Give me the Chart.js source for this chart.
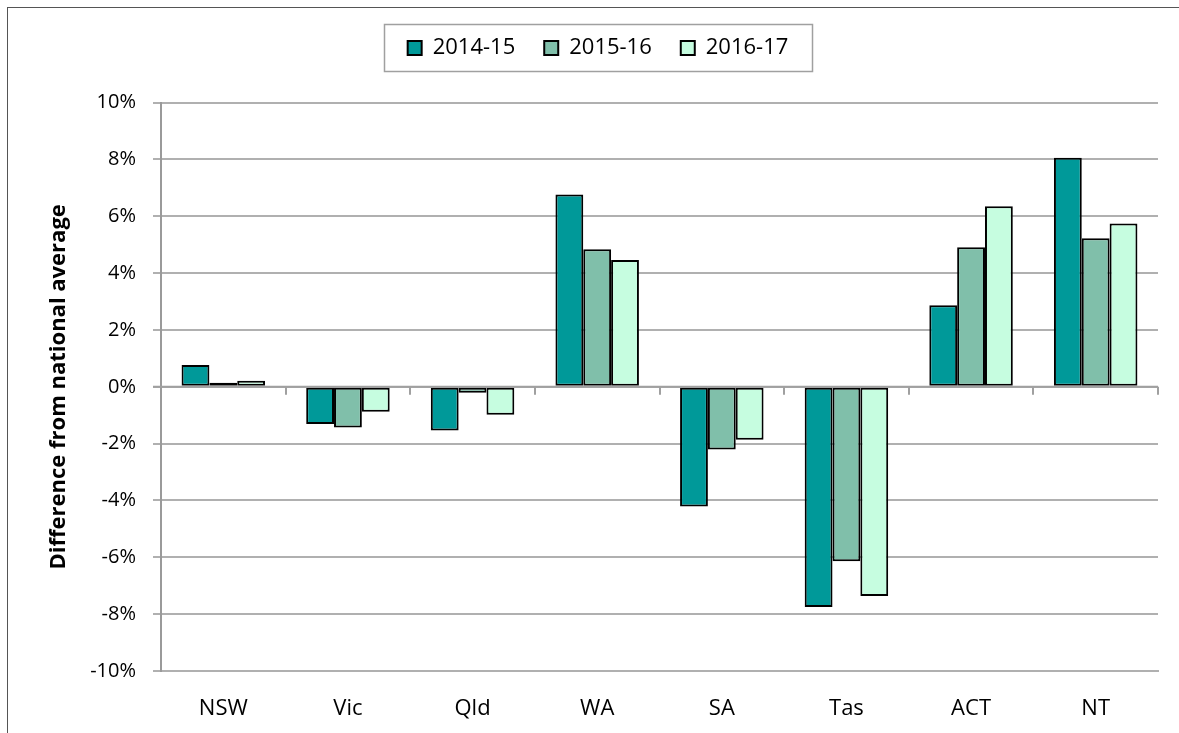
<!DOCTYPE html>
<html>
<head>
<meta charset="utf-8">
<script src="https://cdn.jsdelivr.net/npm/chart.js@4/dist/chart.umd.min.js"></script>
<style>
body{margin:0;background:#fff;overflow:hidden}
#frame{position:absolute;left:7px;top:7px;width:1200px;height:760px;border:1px solid #555;}
#wrap{position:absolute;left:0;top:0;width:1179px;height:733px}
</style>
</head>
<body>
<div id="frame"></div>
<div id="wrap"><canvas id="c" width="1179" height="733"></canvas></div>
<script>
const states = ["NSW","Vic","Qld","WA","SA","Tas","ACT","NT"];
const years = ["2014-15","2015-16","2016-17"];
const v1415 = [0.77,-1.31,-1.54,6.77,-4.21,-7.75,2.87,8.06];
const v1516 = [0.14,-1.43,-0.21,4.84,-2.21,-6.14,4.91,5.23];
const v1617 = [0.21,-0.88,-0.98,4.46,-1.86,-7.36,6.35,5.75];
const colors = ["#009999","#80BFAA","#C6FDE0"];

const FONT = "'Open Sans', sans-serif";

// tick marks on the zero line + border round the legend
const extras = {
  id:"extras",
  afterDraw(chart){
    const ctx = chart.ctx;
    const y = chart.scales.y;
    const y0 = y.getPixelForValue(0);
    ctx.save();
    ctx.strokeStyle = "#a0a0a0";
    ctx.lineWidth = 2;
    ctx.beginPath();
    ctx.moveTo(chart.chartArea.left - 8, y0);
    ctx.lineTo(chart.chartArea.right, y0);
    const step = (chart.chartArea.right - chart.chartArea.left) / states.length;
    for(let i=1;i<=states.length;i++){
      const px = Math.round(chart.chartArea.left + step*i);
      ctx.moveTo(px, y0);
      ctx.lineTo(px, y0+8);
    }
    ctx.stroke();
    ctx.strokeStyle = "#a0a0a0";
    ctx.lineWidth = 1.5;
    ctx.strokeRect(384.5, 24.5, 428, 47);
    ctx.restore();
  }
};

new Chart(document.getElementById("c"),{
  type:"bar",
  data:{
    labels:states,
    datasets:[
      {label:years[0],data:v1415,backgroundColor:colors[0]},
      {label:years[1],data:v1516,backgroundColor:colors[1]},
      {label:years[2],data:v1617,backgroundColor:colors[2]}
    ].map(d=>Object.assign(d,{borderColor:"#000",borderWidth:2,borderSkipped:false}))
  },
  options:{
    responsive:false,
    animation:false,
    layout:{padding:{left:38,right:21,top:8,bottom:0}},
    datasets:{bar:{categoryPercentage:0.67,barPercentage:1}},
    plugins:{
      legend:{
        labels:{
          font:{family:FONT,size:22},
          color:"#000",
          boxWidth:14,boxHeight:14,
          padding:29
        }
      },
      // empty title used as spacer between legend and plot
      title:{display:true,text:"",weight:500,padding:0,font:{size:28,lineHeight:1.2}},
      tooltip:{enabled:false}
    },
    scales:{
      x:{
        afterFit(s){s.height=62;},
        grid:{display:false,drawTicks:false},
        border:{color:"#b0b0b0",width:2},
        ticks:{font:{family:FONT,size:22},color:"#000",padding:25}
      },
      y:{
        min:-10,max:10,
        afterFit(s){s.width=123;},
        ticks:{stepSize:2,font:{family:FONT,size:20},color:"#000",padding:17,
          callback:v=>v+"%"},
        grid:{color:"#b0b0b0",lineWidth:2,tickLength:8},
        border:{color:"#9a9a9a",width:2},
        title:{display:true,text:"Difference from national average",
          font:{family:FONT,size:22,weight:"bold"},color:"#000",padding:{top:8,bottom:0}}
      }
    }
  },
  plugins:[extras]
});
</script>
</body>
</html>
